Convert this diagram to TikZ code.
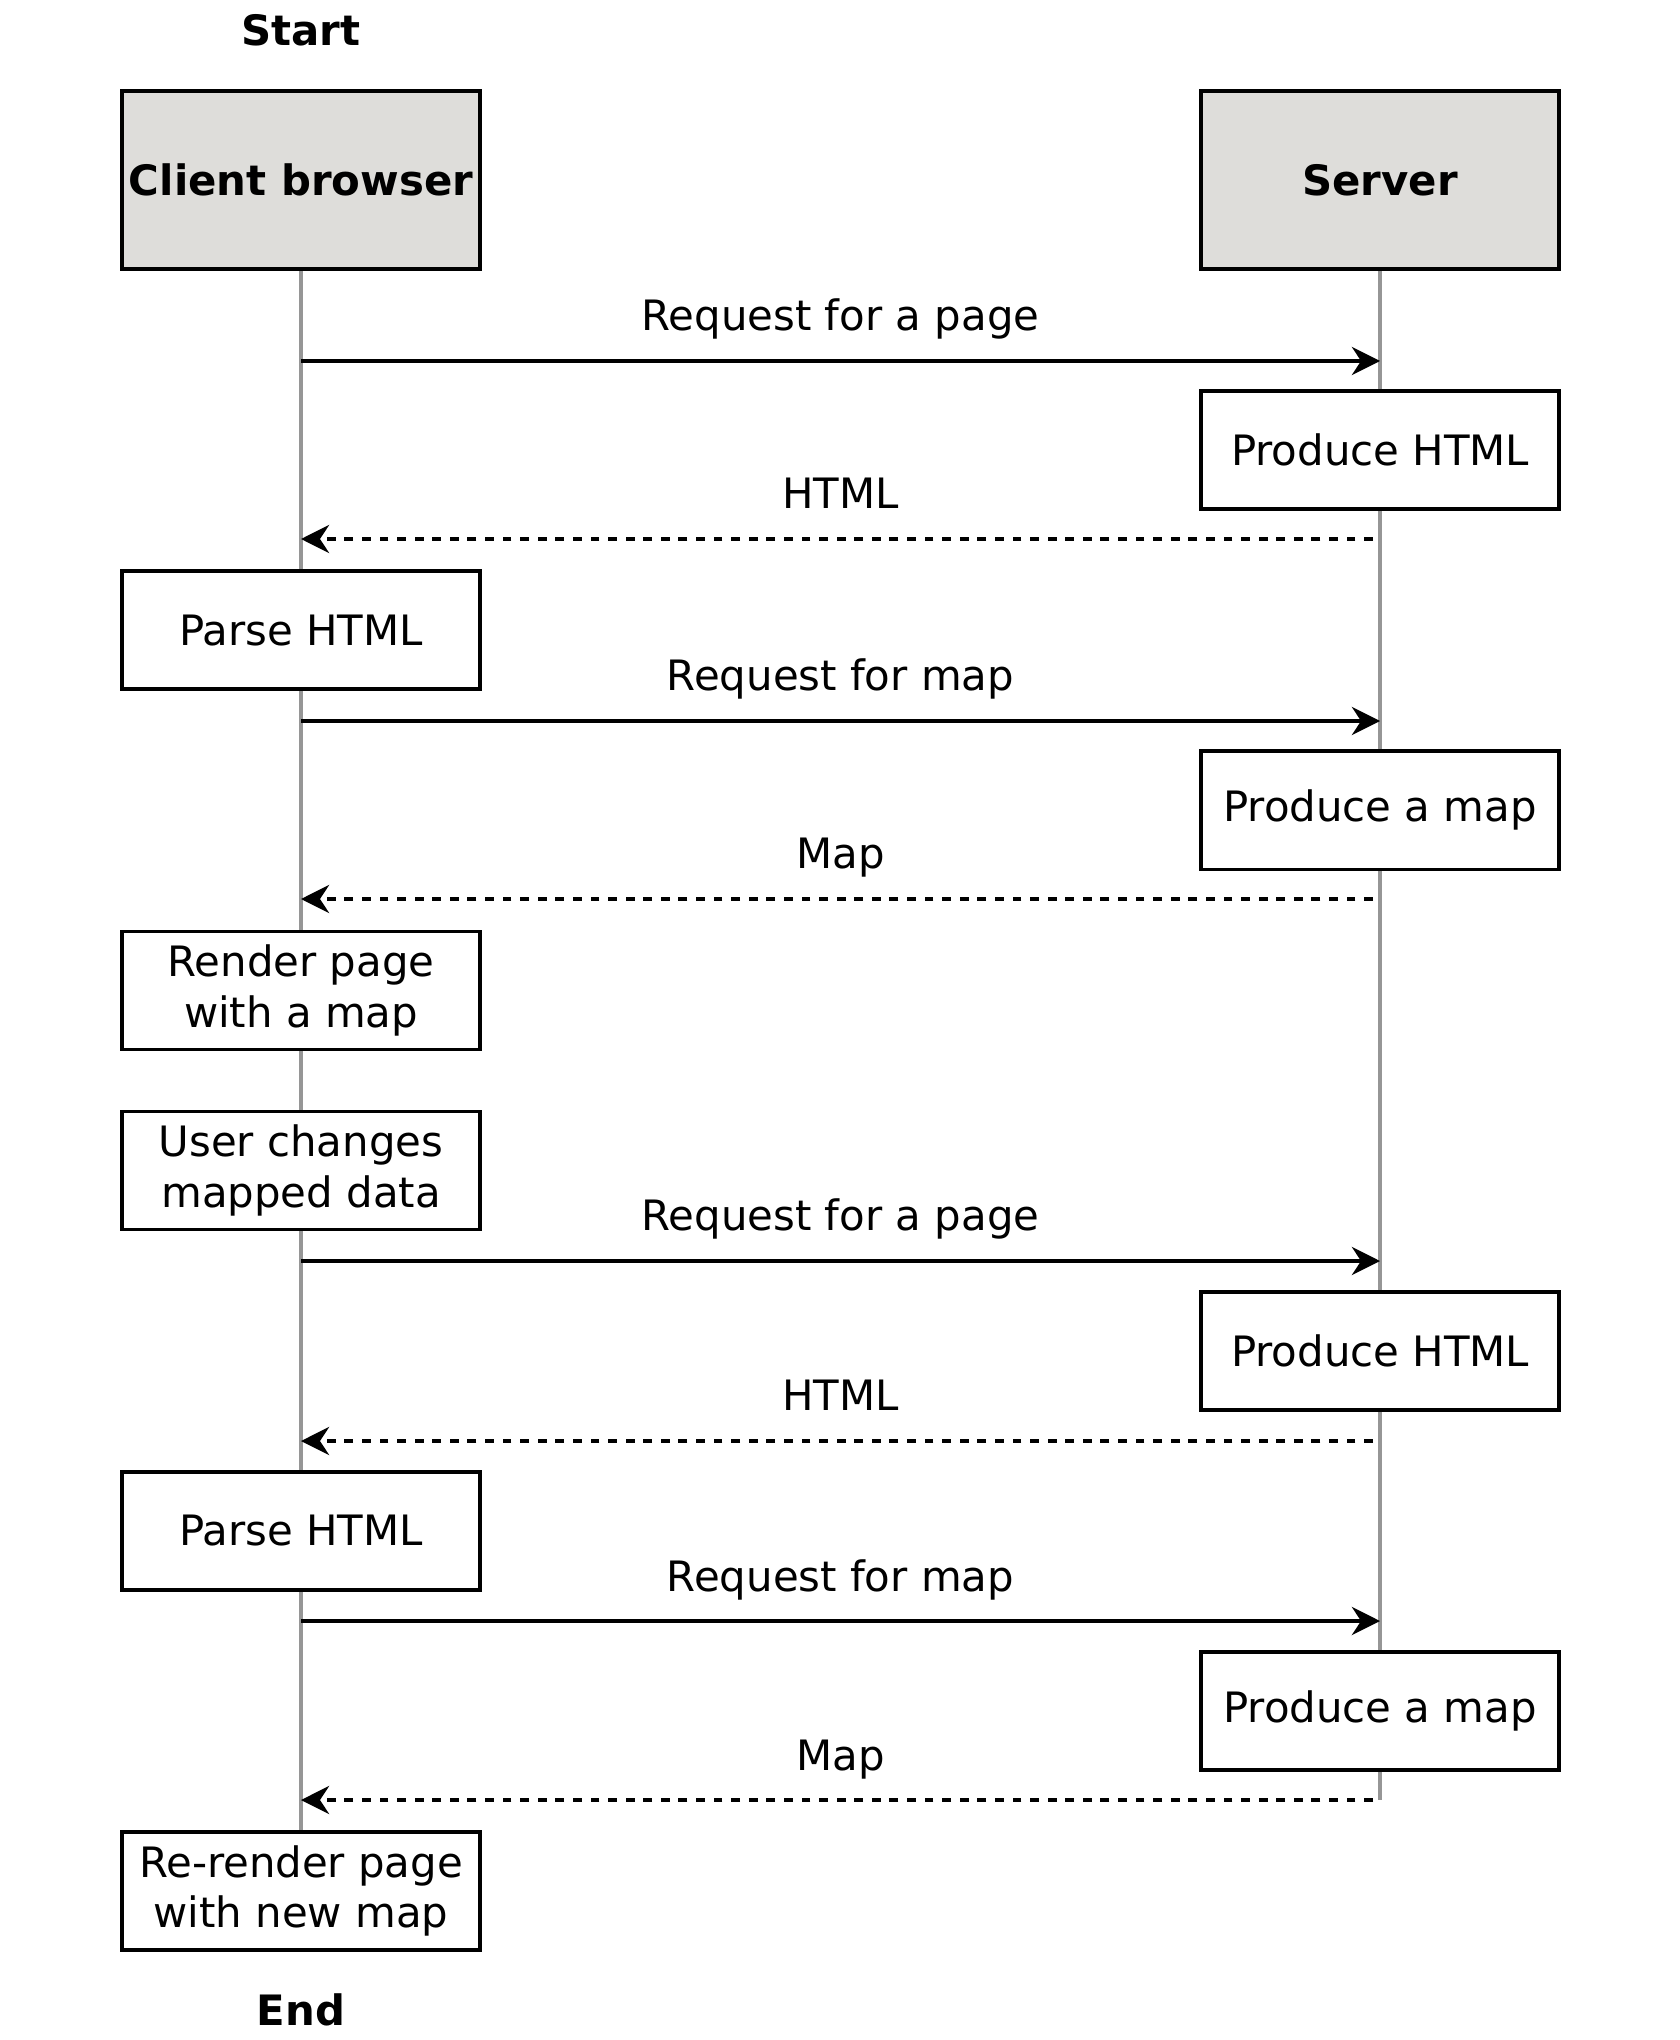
\documentclass[tikz,border=0pt]{standalone}
\usepackage{fontspec}
\setmainfont{DejaVu Sans}
\usetikzlibrary{arrows.meta}
\usetikzlibrary{positioning}
\usetikzlibrary{backgrounds}

\definecolor{headfill}{RGB}{222,221,218}
\definecolor{lifegray}{RGB}{150,150,150}

\begin{document}
\begin{tikzpicture}[x=0.01cm,y=-0.01cm,on grid,
   font=\fontsize{11.9}{14.3}\selectfont,
   box/.style={draw,line width=1.05pt,fill=white,minimum width=3.58cm,
     minimum height=1.18cm,align=center,inner sep=0pt},
   head/.style={box,fill=headfill,minimum height=1.78cm,font=\fontsize{11.9}{14.3}\selectfont\bfseries},
   life/.style={draw=lifegray,line width=0.9pt},
   req/.style={-{Stealth[length=8pt,width=8pt,inset=2.6pt]},line width=1.05pt},
   resp/.style={req,dash pattern=on 2.5pt off 2.5pt,shorten <=0.07cm}]
   \useasboundingbox (0,0) rectangle (1680,2040);

   % lifeline heads
   \node[head] (client) at (301,180) {Client browser};
   \node[head] (server) at (1380,180) {Server};
   \node[font=\fontsize{11.9}{14.3}\selectfont\bfseries] (start) at (301,30) {Start};
   \node[font=\fontsize{11.9}{14.3}\selectfont\bfseries] (end) at (301,2010) {End};

   % client side
   \node[box] (parse1) [below=4.5cm of client] {Parse HTML};
   \node[box] (render) [below=3.6cm of parse1] {Render page\\with a map};
   \node[box] (user) [below=1.8cm of render] {User changes\\mapped data};
   \node[box] (parse2) [below=3.6cm of user] {Parse HTML};
   \node[box] (rerender) [below=3.6cm of parse2] {Re-render page\\with new map};

   % server side
   \node[box] (html1) [below=2.7cm of server] {Produce HTML};
   \node[box] (map1) [below=3.6cm of html1] {Produce a map};
   \node[box] (html2) [below=5.4cm of map1] {Produce HTML};
   \node[box] (map2) [below=3.6cm of html2] {Produce a map};
   \coordinate (serverend) at (server |- 0,1800);

   \begin{scope}[on background layer]
     \draw[life] (client.south) -- (rerender.north);
     \draw[life] (server.south) -- (serverend);
   \end{scope}

   % messages
   \foreach \y/\msg in {361/Request for a page, 721/Request for map,
                        1261/Request for a page, 1621/Request for map}
     \draw[req] (client |- 0,\y) -- node[anchor=base,yshift=0.3cm] {\msg} (server |- 0,\y);
   \foreach \y/\msg in {539/HTML, 899/Map, 1441/HTML, 1800/Map}
     \draw[resp] (server |- 0,\y) -- node[anchor=base,yshift=0.3cm] {\msg} (client |- 0,\y);
\end{tikzpicture}
\end{document}
